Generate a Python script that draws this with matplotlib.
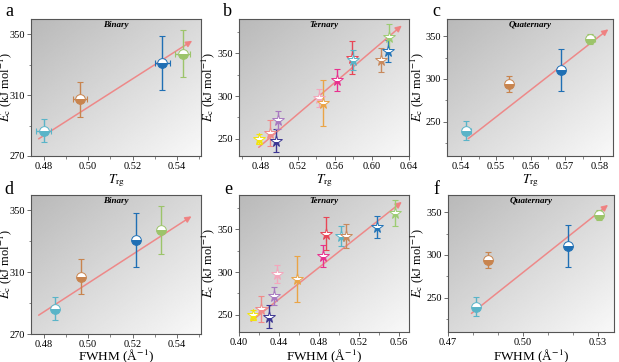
import matplotlib
matplotlib.use("Agg")
import matplotlib.pyplot as plt
import numpy as np

plt.rcParams['font.family'] = ['Liberation Serif', 'DejaVu Serif']
plt.rcParams['mathtext.fontset'] = 'stix'

# binary (a: Trg, d: FWHM)
bin_colors = ['#5ab4c8', '#c8844e', '#1f6fb4', '#9cc46a']
bin_trg = [0.480, 0.4964, 0.5334, 0.5425]
bin_trg_err = [0.0033, 0.0033, 0.0033, 0.0033]
bin_fwhm = [0.4849, 0.497, 0.5216, 0.533]
bin_ec = [286.5, 307.2, 331.0, 337.3]
bin_ec_err = [7.5, 11.5, 17.6, 15.5]

# ternary (b: Trg, e: FWHM)
ter_colors = ['#f2e40c', '#f08a8a', '#3c3692', '#a878c0', '#f4a6bc', '#eaa446',
              '#e8308e', '#e84656', '#58b4c8', '#c8895c', '#2274b8', '#9ccc72']
ter_trg = [0.478, 0.490, 0.4965, 0.499, 0.543, 0.5475, 0.5625, 0.579, 0.580, 0.610, 0.617, 0.618]
ter_fwhm = [0.414, 0.4217, 0.430, 0.435, 0.4384, 0.458, 0.4842, 0.4868, 0.5019, 0.5075, 0.5376, 0.5556]
ter_ec = [250.0, 256.5, 248.0, 272.0, 297.5, 292.2, 318.5, 345.0, 341.8, 341.8, 352.8, 369.0]
ter_ec_err = [6, 15, 13, 10.5, 10.5, 27, 13, 19, 11.5, 14, 12.5, 15]

# quaternary (c: Trg, f: FWHM)
quat_colors = ['#5ab4c8', '#c8844e', '#1f6fb4', '#9cc46a']
quat_trg = [0.5415, 0.5537, 0.5689, 0.5772]
quat_trg_err = [0.0012, 0.0010, 0.0010, 0.0013]
quat_fwhm = [0.4811, 0.4859, 0.5180, 0.5302]
quat_ec = [239.5, 294.0, 310.5, 346.5]
quat_ec_err = [11, 9, 25, 6]

# trend arrows (start, end)
arrow_a = ((0.4767, 280.3), (0.5479, 346.7))
arrow_b = ((0.4755, 238.0), (0.6345, 384.5))
arrow_c = ((0.5414, 228.3), (0.5831, 360.0))
arrow_d = ((0.4767, 281.2), (0.5476, 347.2))
arrow_e = ((0.410, 240.6), (0.565, 384.0))
arrow_f = ((0.4785, 229.7), (0.5349, 360.5))

W, H = 619, 362
fig = plt.figure(figsize=(W / 100, H / 100), dpi=100)


def add_ax(l, t, r, b):
    return fig.add_axes([l / W, 1 - b / H, (r - l) / W, (b - t) / H])


grad_x, grad_y = np.meshgrid(np.linspace(0, 1, 200), np.linspace(1, 0, 200))
grad = 0.975 - 0.25 * (1 - grad_x + grad_y) / 2


def panel(ax, xs, ys, yerr, colors, marker, ms, xerr, arrow, label, xlim, ylim,
          xticks, yticks, xminor, yminor, xlabel, letter, lx, ly, ylx, xly):
    ax.imshow(grad, cmap='gray', vmin=0, vmax=1, extent=(0, 1, 0, 1),
              transform=ax.transAxes, aspect='auto', zorder=0)
    ax.annotate('', xy=arrow[1], xytext=arrow[0],
                arrowprops=dict(arrowstyle='-|>', color='#f08080', lw=1.1,
                                mutation_scale=9, alpha=0.9), zorder=2)
    for i in range(len(xs)):
        xe = xerr[i] if xerr is not None else None
        ax.errorbar(xs[i], ys[i], yerr=yerr[i], xerr=xe, fmt='none',
                    ecolor=colors[i], elinewidth=1.0, capsize=2, capthick=0.8,
                    zorder=3)
        ax.plot(xs[i], ys[i], marker=marker, ms=ms, color=colors[i],
                fillstyle='bottom', markerfacecoloralt='white',
                markeredgecolor=colors[i], mew=0.7, zorder=4)
    ax.set_xlim(*xlim)
    ax.set_ylim(*ylim)
    ax.set_xticks(xticks)
    ax.set_yticks(yticks)
    ax.set_xticks(xminor, minor=True)
    ax.set_yticks(yminor, minor=True)
    ax.tick_params(labelsize=7.5, length=3, width=0.6, color='#555555', pad=1.5)
    ax.tick_params(which='minor', length=1.8, width=0.5, color='#555555')
    for s in ax.spines.values():
        s.set_color('#555555')
        s.set_linewidth(0.8)
    ax.set_ylabel(r'$E_{\rm c}$ (kJ mol$^{-1}$)', fontsize=9)
    ax.yaxis.set_label_coords(ylx, 0.5)
    ax.set_xlabel(xlabel, fontsize=9.5)
    ax.xaxis.set_label_coords(0.5, xly)
    ax.text(0.5, 0.955, label, transform=ax.transAxes, ha='center', va='center',
            fontsize=6.5, fontweight='bold', style='italic', zorder=5)
    fig.text(lx / W, 1 - ly / H, letter, fontsize=13, ha='center', va='center')


trg_label = r'$T_{\rm rg}$'
fwhm_label = 'FWHM (Å$^{-1}$)'

ax = add_ax(31, 19, 201, 156)
panel(ax, bin_trg, bin_ec, bin_ec_err, bin_colors, 'o', 7, bin_trg_err, arrow_a,
      'Binary', (0.4743, 0.5508), (270, 360), [0.48, 0.50, 0.52, 0.54],
      [270, 310, 350], np.arange(0.48, 0.551, 0.01), [290, 330], trg_label, 'a', 9, 11,
      -0.1, -0.117)

ax = add_ax(239, 19, 409, 156)
panel(ax, ter_trg, ter_ec, ter_ec_err, ter_colors, '*', 8.5, None, arrow_b,
      'Ternary', (0.4565, 0.64), (230, 390), [0.48, 0.52, 0.56, 0.60, 0.64],
      [250, 300, 350], np.arange(0.46, 0.641, 0.02), [275, 325, 375], trg_label, 'b', 227, 11,
      -0.13, -0.117)

ax = add_ax(447, 19, 613, 156)
panel(ax, quat_trg, quat_ec, quat_ec_err, quat_colors, 'o', 7, quat_trg_err, arrow_c,
      'Quaternary', (0.5359, 0.5838), (210, 370), [0.54, 0.55, 0.56, 0.57, 0.58],
      [250, 300, 350], np.arange(0.54, 0.584, 0.005), [225, 275, 325], trg_label, 'c', 436, 11,
      -0.125, -0.117)

ax = add_ax(31, 195, 201, 334)
panel(ax, bin_fwhm, bin_ec, bin_ec_err, bin_colors, 'o', 7, None, arrow_d,
      'Binary', (0.4743, 0.5508), (270, 360), [0.48, 0.50, 0.52, 0.54],
      [270, 310, 350], np.arange(0.48, 0.551, 0.01), [290, 330], fwhm_label, 'd', 9, 190,
      -0.1, -0.097)

ax = add_ax(239, 195, 409, 332)
panel(ax, ter_fwhm, ter_ec, ter_ec_err, ter_colors, '*', 8.5, None, arrow_e,
      'Ternary', (0.40, 0.57), (230, 390), [0.40, 0.44, 0.48, 0.52, 0.56],
      [250, 300, 350], np.arange(0.42, 0.57, 0.04), [275, 325, 375], fwhm_label, 'e', 228, 190,
      -0.13, -0.112)

ax = add_ax(448, 195, 614, 332)
panel(ax, quat_fwhm, quat_ec, quat_ec_err, quat_colors, 'o', 7, None, arrow_f,
      'Quaternary', (0.4712, 0.5364), (210, 370), [0.47, 0.50, 0.53],
      [250, 300, 350], np.arange(0.48, 0.536, 0.01), [225, 275, 325], fwhm_label, 'f', 436, 190,
      -0.13, -0.112)

fig.savefig('out.png', dpi=100)
